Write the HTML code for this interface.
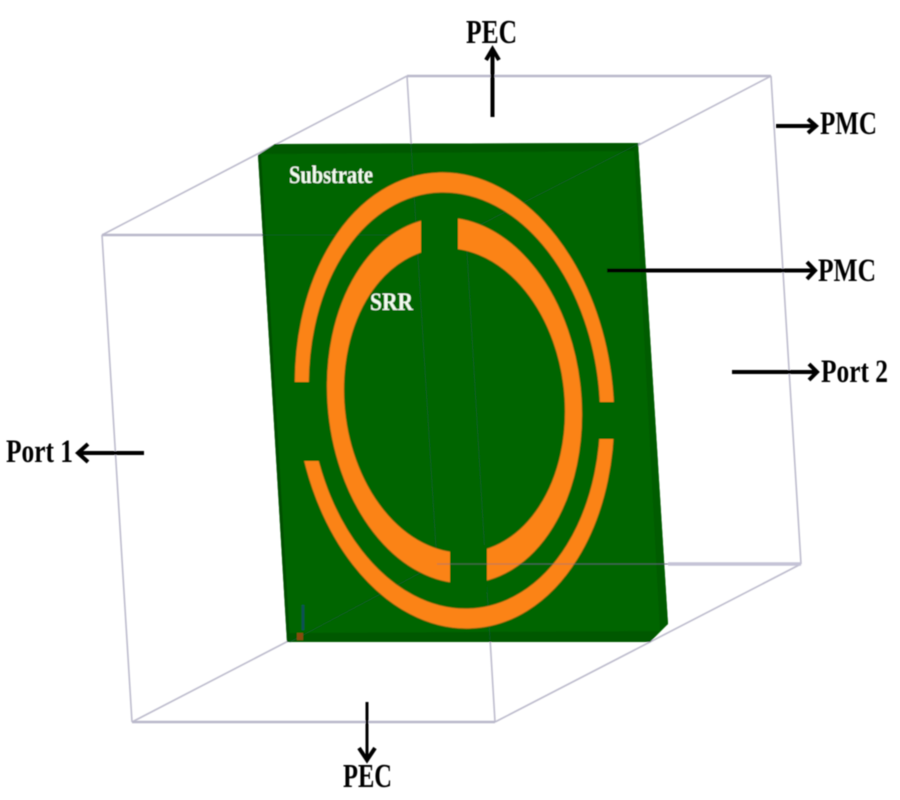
<!DOCTYPE html>
<html>
<head>
<meta charset="utf-8">
<style>
html,body{margin:0;padding:0;background:#fff;width:900px;height:800px;overflow:hidden}
svg{display:block}
text{font-family:"Liberation Serif",serif;font-weight:bold}
</style>
</head>
<body>
<svg width="900" height="800" viewBox="0 0 900 800" xmlns="http://www.w3.org/2000/svg">
<defs><filter id="b" x="-5%" y="-5%" width="110%" height="110%"><feGaussianBlur stdDeviation="0.55"/></filter></defs>
<rect width="900" height="800" fill="#fff"/>
<g filter="url(#b)">
<!-- wireframe box -->
<g fill="none" stroke="#bdbccd" stroke-width="1.6">
<path d="M407 76L437 564M771 76L801 564"/>
<path d="M102 235L132 722M466 235L495 722"/>
<path d="M102 235L407 76M466 235L771 76M495 722L801 564M132 722L437 564"/>
</g>
<path d="M407 76H771M102 235H466M132 722H495" stroke="#b9b8ca" stroke-width="2.400" fill="none"/>
<path d="M668 564H801" stroke="#c4c3d6" stroke-width="3.500" fill="none"/>
<!-- substrate -->
<polygon points="258,155 275,144 638,143 668,624 650,642 287,642" fill="#056505"/>
<polygon points="262,154 275,144 638,143 638,151 272,154" fill="#045804"/>
<polygon points="290,633 659,631 650,642 287,642" fill="#045804"/>
<polygon points="258,155 261,155 290,642 287,642" fill="#044f04"/>
<polygon points="634,148 638,143 668,624 660,631" fill="#045c04"/>
<!-- faint wireframe on substrate -->
<g fill="none" stroke="#0e5a3a" stroke-width="1" opacity=".55">
<path d="M411 144L437 564M466 235L490 640M262 235H420M437 564H668"/>
<path d="M470 230L640 143M290 642L437 564"/>
</g>
<!-- rings -->
<g transform="matrix(1,-0.026,0.066,1,454.500,400.500)" stroke="#9a6a12" stroke-width=".7">
<path fill="#fb8315" fill-rule="evenodd" d="M-159 0A159 228 0 1 1 159 0A159 228 0 1 1 -159 0ZM-145 0A145 208 0 1 0 145 0A145 208 0 1 0 -145 0Z"/>
<path fill="#fb8315" fill-rule="evenodd" d="M-127 0A127 183 0 1 1 127 0A127 183 0 1 1 -127 0ZM-110 0A110 152 0 1 0 110 0A110 152 0 1 0 -110 0Z"/>
</g>
<!-- gaps -->
<g fill="#056505">
<rect x="285" y="382" width="40" height="79"/>
<rect x="590" y="402" width="32" height="37"/>
<polygon points="421,210 458,210 458,255 421,255"/>
<polygon points="450,545 487,545 487,592 450,592"/>
</g>
<path d="M437 564H668" stroke="#8a6a9a" stroke-width="1.200" opacity=".45" fill="none"/>
<!-- arrows -->
<g fill="none" stroke="#000" stroke-width="4">
<path d="M492.500 117V52"/>
<path d="M486 60L492.500 49L499 60"/>
<path d="M776 126H814"/>
<path d="M808 119L816 126L808 133"/>
<path d="M607 270.500H813"/>
<path d="M807 262L815 270.500L807 279"/>
<path d="M732 372H816"/>
<path d="M809 364L817 372L809 380"/>
<path d="M144 453H80"/>
<path d="M88 444L78 453L88 462"/>
<path d="M367 702V758" stroke-width="3"/>
<path d="M359 748L367 760L375 748"/>
</g>
<!-- labels -->
<g fill="#000">
<text x="466" y="43" font-size="34" textLength="51" lengthAdjust="spacingAndGlyphs">PEC</text>
<text x="820" y="134" font-size="33" textLength="57" lengthAdjust="spacingAndGlyphs">PMC</text>
<text x="818" y="281" font-size="33" textLength="58" lengthAdjust="spacingAndGlyphs">PMC</text>
<text x="821" y="382" font-size="33" textLength="67" lengthAdjust="spacingAndGlyphs">Port 2</text>
<text x="6" y="462" font-size="33" textLength="67" lengthAdjust="spacingAndGlyphs">Port 1</text>
<text x="343" y="787" font-size="34" textLength="49" lengthAdjust="spacingAndGlyphs">PEC</text>
</g>
<g fill="#f2fbef">
<text x="289" y="183" font-size="25" textLength="84" lengthAdjust="spacingAndGlyphs">Substrate</text>
<text x="370" y="310" font-size="25" textLength="43" lengthAdjust="spacingAndGlyphs">SRR</text>
</g>
<!-- axes -->
<path d="M303 605V630" stroke="#0a4f5a" stroke-width="2.500"/>
<rect x="297" y="633" width="6" height="7" fill="#8a4a10"/>
</g>
</svg>
</body>
</html>
